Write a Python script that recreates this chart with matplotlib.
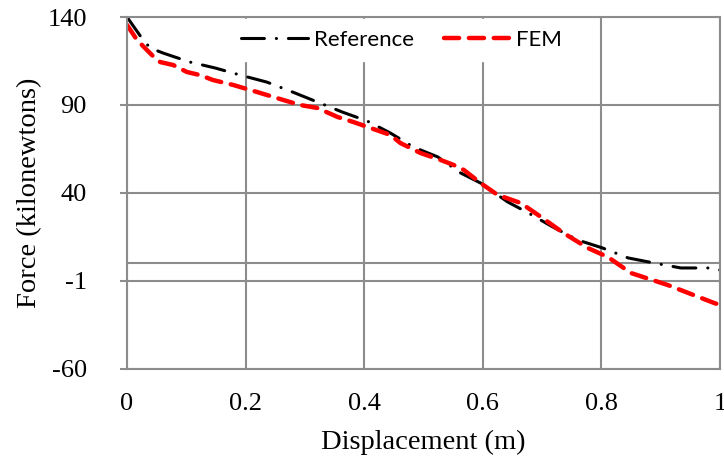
import matplotlib
matplotlib.use('Agg')
import matplotlib.pyplot as plt
import numpy as np

# reference curve (black dash-dot)
ref_x = [0, 0.025, 0.039, 0.061, 0.106, 0.149, 0.191, 0.236, 0.279, 0.321, 0.363,
         0.405, 0.444, 0.483, 0.524, 0.5625, 0.596, 0.642, 0.677, 0.718, 0.760,
         0.802, 0.845, 0.889, 0.934, 0.98, 1.0]
ref_y = [140, 128, 122.4, 119.5, 114.4, 111, 107, 103, 97.4, 91.7, 86,
         80.9, 74.1, 66.1, 60.5, 51.4, 45.7, 34.9, 28.6, 20.7, 13.3,
         8.75, 3.1, 0.2, -2.6, -2.6, -3.75]

# FEM curve (red dashed)
fem_x = [0, 0.017, 0.042, 0.056, 0.078, 0.101, 0.123, 0.145, 0.179, 0.208, 0.225,
         0.264, 0.292, 0.321, 0.355, 0.382, 0.41, 0.444, 0.461, 0.495, 0.529,
         0.551, 0.568, 0.596, 0.625, 0.664, 0.698, 0.736, 0.777, 0.811, 0.85,
         0.912, 0.99, 1.0]
fem_y = [135.5, 126.9, 118.4, 114.4, 112.7, 108.75, 107, 104.2, 101.4, 98.5, 96.8,
         92.8, 90, 88.3, 83.2, 80.3, 77, 73, 68.4, 62.7, 58.75,
         55.9, 53.1, 45.7, 38.9, 34.3, 26.4, 17.3, 8.75, 3.6, -5.5,
         -12.3, -22.5, -23.6]

xticks = [0, 0.2, 0.4, 0.6, 0.8, 1.0]
xtick_labels = ['0', '0.2', '0.4', '0.6', '0.8', '1']
yticks = [-60, -10, 40, 90, 140]
ytick_labels = ['-60', '-1', '40', '90', '140']

grid_col = '#8c8c8c'
serif = 'Liberation Serif'

fig = plt.figure(figsize=(7.24, 4.57), dpi=100)
ax = fig.add_axes([0.1754, 0.1926, 0.8191, 0.7702])

ax.set_xlim(0, 1)
ax.set_ylim(-60, 140)
ax.set_xticks(xticks)
ax.set_xticklabels(xtick_labels)
ax.set_yticks(yticks)
ax.set_yticklabels(ytick_labels)
ax.grid(True, color=grid_col, lw=1.5, zorder=0)
ax.set_axisbelow(True)
ax.axhline(0, color=grid_col, lw=1.5, zorder=0.5)
for s in ax.spines.values():
    s.set_color(grid_col)
    s.set_linewidth(1.5)
    s.set_zorder(6)

ax.tick_params(axis='y', length=5, width=1.5, color=grid_col, pad=24, labelsize=19)
ax.tick_params(axis='x', length=0, pad=17, labelsize=19)
for lab in ax.get_xticklabels() + ax.get_yticklabels():
    lab.set_fontfamily(serif)

ax.plot(ref_x, ref_y, color='black', lw=2.2, dashes=(7.5, 3.9, 0.05, 3.9),
        dash_capstyle='round', solid_capstyle='round', label='Reference', zorder=3)
ax.plot(fem_x, fem_y, color='red', lw=3.2, dashes=(3.4, 2.2),
        dash_capstyle='round', label='FEM', zorder=4)

ax.set_xlabel('Displacement (m)', fontfamily=serif, fontsize=20.5, labelpad=11)
ax.set_ylabel('Force (kilonewtons)', fontfamily=serif, fontsize=20.5, labelpad=4)

leg = ax.legend(loc='center', bbox_to_anchor=(0.463, 0.935), ncol=2,
                prop={'family': 'Lato', 'size': 16}, handlelength=3.0,
                handletextpad=0.25, columnspacing=1.35, borderpad=0.5,
                frameon=True, fancybox=False, framealpha=1)
leg.get_frame().set_edgecolor('white')
leg.set_zorder(5)

fig.savefig('out.png', dpi=100)
